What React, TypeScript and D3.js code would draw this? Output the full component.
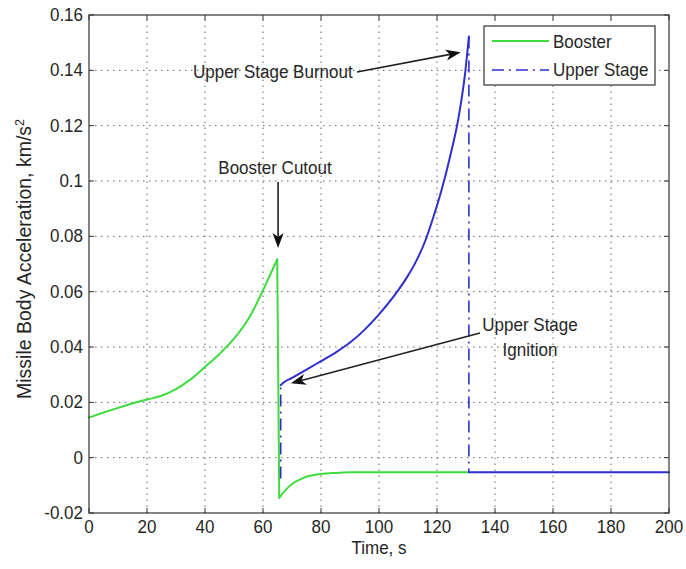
import React from 'react';
import * as d3 from 'd3';

const xTicks = [0, 20, 40, 60, 80, 100, 120, 140, 160, 180, 200];
const xTickLabels = ['0', '20', '40', '60', '80', '100', '120', '140', '160', '180', '200'];
const yTicks = [-0.02, 0, 0.02, 0.04, 0.06, 0.08, 0.1, 0.12, 0.14, 0.16];
const yTickLabels = ['-0.02', '0', '0.02', '0.04', '0.06', '0.08', '0.1', '0.12', '0.14', '0.16'];

const boosterTime = [0, 5, 10, 15, 20, 25, 30, 35, 40, 45, 50, 55, 60, 62.5, 64.9, 65.6, 67.5, 70, 72.5, 75, 80, 85, 90, 131];
const boosterAccel = [0.0145, 0.0163, 0.018, 0.0196, 0.021, 0.0224, 0.0248, 0.0283, 0.0328, 0.0375, 0.043, 0.0502, 0.0605, 0.0662, 0.0717, -0.0145, -0.012, -0.0095, -0.008, -0.0069, -0.0059, -0.0055, -0.0053, -0.0053];

const upperTime = [66.1, 66.1, 67, 70, 75, 80, 85, 90, 95, 100, 105, 110, 113, 116, 118.7, 121.6, 124.5, 127.3, 129.7, 131, 131, 200];
const upperAccel = [-0.0075, 0.0262, 0.0271, 0.0288, 0.0318, 0.0349, 0.038, 0.0416, 0.0462, 0.0518, 0.0582, 0.0658, 0.0714, 0.0785, 0.0868, 0.0968, 0.1088, 0.1222, 0.139, 0.1522, -0.0053, -0.0053];

const seriesNames = ['Booster', 'Upper Stage'];

const W = 686;
const H = 569;
const FONT = "'Liberation Sans', Arial, sans-serif";
const FS = 17;
const SY = 1.1;
const GREEN = '#3fdc3f';
const BLUE = '#2f2fcf';
const TEXT = '#262626';

function T({ x, y, anchor, children }: { x: number; y: number; anchor?: string; children: React.ReactNode }) {
  return (
    <text transform={`translate(${x},${y}) scale(1,${SY})`} textAnchor={anchor || 'start'} fontSize={FS} fill={TEXT}>
      {children}
    </text>
  );
}

function Arrow({ x1, y1, x2, y2 }: { x1: number; y1: number; x2: number; y2: number }) {
  const ang = Math.atan2(y2 - y1, x2 - x1);
  const L = 15, Wd = 5.5, notch = 4;
  const bx = x2 - L * Math.cos(ang), by = y2 - L * Math.sin(ang);
  const nx = x2 - (L - notch) * Math.cos(ang), ny = y2 - (L - notch) * Math.sin(ang);
  const px = -Math.sin(ang), py = Math.cos(ang);
  const pts = [
    [x2, y2],
    [bx + px * Wd, by + py * Wd],
    [nx, ny],
    [bx - px * Wd, by - py * Wd],
  ];
  return (
    <g>
      <line x1={x1} y1={y1} x2={nx} y2={ny} stroke="#222" strokeWidth={1.6} />
      <polygon points={pts.map((p) => p.join(',')).join(' ')} fill="#111" />
    </g>
  );
}

// split a series into pieces of monotone direction (smooth drawing, sharp corners kept)
function pieces(pts: [number, number][]) {
  const out: { pts: [number, number][]; vertical: boolean }[] = [];
  let cur: [number, number][] = [pts[0]];
  let dir = 0;
  for (let i = 1; i < pts.length; i++) {
    const a = pts[i - 1], b = pts[i];
    if (a[0] === b[0]) {
      if (cur.length > 1) out.push({ pts: cur, vertical: false });
      out.push({ pts: [a, b], vertical: true });
      cur = [b];
      dir = 0;
      continue;
    }
    const d = Math.sign(b[1] - a[1]);
    if (dir !== 0 && d !== 0 && d !== dir) {
      out.push({ pts: cur, vertical: false });
      cur = [a];
      dir = d;
    } else if (d !== 0 && dir === 0) {
      dir = d;
    }
    cur.push(b);
  }
  if (cur.length > 1) out.push({ pts: cur, vertical: false });
  return out;
}

export default function App() {
  const x = d3.scaleLinear().domain([0, 200]).range([89, 669]);
  const y = d3.scaleLinear().domain([-0.02, 0.16]).range([513, 15]);
  const [x0, x1] = x.range();
  const [y0, y1] = y.range();

  const smooth = d3.line<[number, number]>().x((d) => x(d[0])).y((d) => y(d[1])).curve(d3.curveMonotoneX);
  const straight = d3.line<[number, number]>().x((d) => x(d[0])).y((d) => y(d[1]));

  const booster: [number, number][] = boosterTime.map((t, i) => [t, boosterAccel[i]]);
  const upper: [number, number][] = upperTime.map((t, i) => [t, upperAccel[i]]);

  const tickLen = 5;

  const renderSeries = (pts: [number, number][], color: string, dashedJumps: boolean, key: string) =>
    pieces(pts).map((p, i) => (
      <path
        key={key + i}
        d={(p.vertical ? straight(p.pts) : smooth(p.pts)) || ''}
        fill="none"
        stroke={color}
        strokeWidth={p.vertical && dashedJumps ? 1.6 : 2}
        strokeDasharray={p.vertical && dashedJumps ? '12,5,2,5' : undefined}
        strokeLinejoin="round"
        strokeLinecap={p.vertical && dashedJumps ? 'butt' : 'round'}
      />
    ));

  return (
    <svg width={W} height={H} style={{ position: 'absolute', left: 0, top: 0, background: '#fff' }} fontFamily={FONT}>
      <rect x={0} y={0} width={W} height={H} fill="#fff" />
      {/* grid */}
      <g stroke="#666" strokeWidth={1} strokeDasharray="1.5,4.5">
        {xTicks.slice(1, -1).map((t) => (
          <line key={'gx' + t} x1={x(t)} x2={x(t)} y1={y0} y2={y1} />
        ))}
        {yTicks.slice(1, -1).map((t) => (
          <line key={'gy' + t} x1={x0} x2={x1} y1={y(t)} y2={y(t)} />
        ))}
      </g>
      {/* series */}
      {renderSeries(booster, GREEN, false, 'b')}
      {renderSeries(upper, BLUE, true, 'u')}
      {/* box & ticks */}
      <rect x={x0} y={y1} width={x1 - x0} height={y0 - y1} fill="none" stroke="#333" strokeWidth={1.2} />
      <g stroke="#333" strokeWidth={1}>
        {xTicks.map((t) => (
          <g key={'tx' + t}>
            <line x1={x(t)} x2={x(t)} y1={y0} y2={y0 - tickLen} />
            <line x1={x(t)} x2={x(t)} y1={y1} y2={y1 + tickLen} />
          </g>
        ))}
        {yTicks.map((t) => (
          <g key={'ty' + t}>
            <line x1={x0} x2={x0 + tickLen} y1={y(t)} y2={y(t)} />
            <line x1={x1} x2={x1 - tickLen} y1={y(t)} y2={y(t)} />
          </g>
        ))}
      </g>
      {/* tick labels */}
      {xTicks.map((t, i) => (
        <T key={'lx' + t} x={x(t)} y={y0 + 20} anchor="middle">
          {xTickLabels[i]}
        </T>
      ))}
      {yTicks.map((t, i) => (
        <T key={'ly' + t} x={x0 - 6} y={y(t) + 6} anchor="end">
          {yTickLabels[i]}
        </T>
      ))}
      {/* axis titles */}
      <T x={(x0 + x1) / 2} y={554} anchor="middle">
        Time, s
      </T>
      <text
        transform={`translate(31, 259) rotate(-90)`}
        textAnchor="middle"
        fontSize={19.5}
        fill={TEXT}
      >
        Missile Body Acceleration, km/s<tspan dy={-7} fontSize={12.5}>2</tspan>
      </text>
      {/* legend */}
      <g>
        <rect x={484} y={26} width={171} height={59} fill="#fff" stroke="#333" strokeWidth={1.2} />
        <line x1={492} x2={549} y1={41} y2={41} stroke={GREEN} strokeWidth={2} />
        <line x1={492} x2={549} y1={70} y2={70} stroke={BLUE} strokeWidth={1.6} strokeDasharray="12,5,2,5" />
        <T x={553} y={48}>{seriesNames[0]}</T>
        <T x={553} y={76}>{seriesNames[1]}</T>
      </g>
      {/* annotations */}
      <T x={193} y={78}>Upper Stage Burnout</T>
      <Arrow x1={357} y1={72} x2={x(128.2)} y2={y(0.1465)} />
      <T x={275} y={174} anchor="middle">Booster Cutout</T>
      <Arrow x1={x(65.2)} y1={182} x2={x(65.2)} y2={y(0.0758)} />
      <T x={530} y={331} anchor="middle">Upper Stage</T>
      <T x={530} y={356} anchor="middle">Ignition</T>
      <Arrow x1={480} y1={333} x2={x(69.6)} y2={y(0.0269)} />
    </svg>
  );
}
